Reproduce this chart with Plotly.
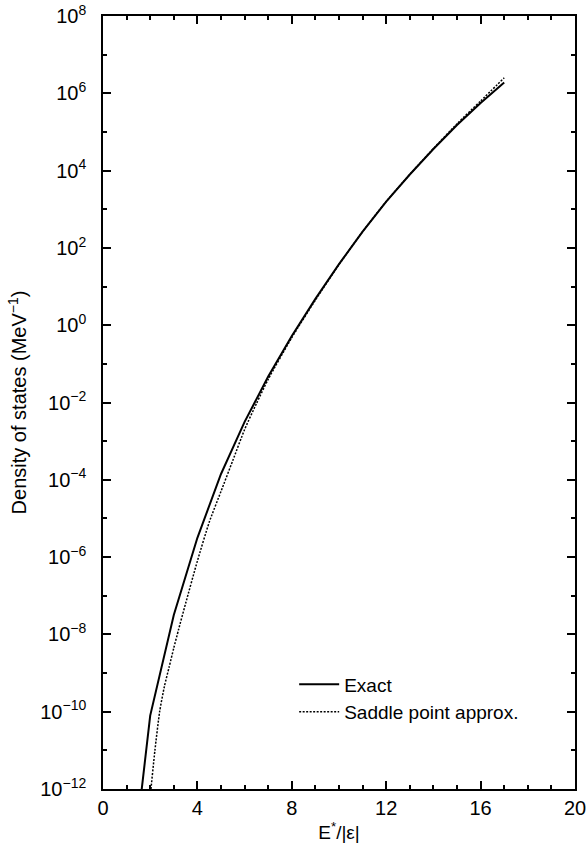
import plotly.graph_objects as go

# ---- data ----
exact_x = [1, 2, 3, 4, 5, 6, 7, 8, 9, 10, 11, 12, 13, 14, 15, 16, 17]
exact_log = [-15.4, -10.1, -7.5, -5.5, -3.85, -2.5, -1.33, -0.28, 0.68, 1.58,
             2.42, 3.2, 3.9, 4.56, 5.18, 5.75, 6.28]

saddle_x = [1.9, 2.0, 2.2, 2.4, 2.6, 2.8, 3.0, 3.2, 3.5, 4.0, 4.5, 5.0, 5.5,
            6.0, 6.5, 7, 8, 9, 10, 11, 12, 13, 14, 15, 16, 17]
saddle_log = [-12.9, -12.2, -11.0, -10.0, -9.35, -8.85, -8.35, -7.88, -7.2,
              -6.1, -5.1, -4.3, -3.5, -2.7, -2.03, -1.4, -0.32, 0.65, 1.57,
              2.42, 3.2, 3.9, 4.57, 5.21, 5.8, 6.4]

x_tickvals = [0, 4, 8, 12, 16, 20]
y_exponents = [-12, -10, -8, -6, -4, -2, 0, 2, 4, 6, 8]
y_minor_exponents = [-11, -9, -7, -5, -3, -1, 1, 3, 5, 7]

exact_y = [10 ** v for v in exact_log]
saddle_y = [10 ** v for v in saddle_log]
y_tickvals = [10.0 ** e for e in y_exponents]
y_ticktext = ["10<sup>%s</sup>" % (str(e).replace("-", "\u2212")) for e in y_exponents]
y_minor = [10.0 ** e for e in y_minor_exponents]

FONT = "Liberation Sans, Arial, Helvetica, sans-serif"

fig = go.Figure()
fig.add_trace(go.Scatter(x=exact_x, y=exact_y, mode="lines", name="Exact",
                         line=dict(color="black", width=2)))
fig.add_trace(go.Scatter(x=saddle_x, y=saddle_y, mode="lines",
                         name="Saddle point approx.",
                         line=dict(color="black", width=1.5, dash="2px,1.5px",
                                   shape="spline", smoothing=0.6)))

axis_common = dict(showline=True, linecolor="black", linewidth=1.5,
                   mirror="allticks", ticks="inside", ticklen=8, tickwidth=1.5,
                   tickcolor="black", showgrid=False, zeroline=False,
                   automargin=False, ticklabeloverflow="allow",
                   tickfont=dict(family=FONT, size=20, color="black"))

fig.update_xaxes(range=[0, 20], tickmode="array", tickvals=x_tickvals,
                 minor=dict(dtick=1, ticks="inside", ticklen=4, tickwidth=1.5,
                            tickcolor="black", showgrid=False),
                 ticklabelstandoff=0,
                 title=dict(text="E<sup>*</sup>/|\u03b5|",
                            font=dict(family=FONT, size=19, color="black"),
                            standoff=8),
                 **axis_common)
fig.update_yaxes(type="log", range=[-12, 8], tickmode="array",
                 tickvals=y_tickvals, ticktext=y_ticktext,
                 minor=dict(tickmode="array", tickvals=y_minor, ticks="inside",
                            ticklen=4, tickwidth=1.5, tickcolor="black",
                            showgrid=False),
                 ticklabelstandoff=11,
                 title=dict(text="Density of states (MeV<sup>\u22121</sup>)",
                            font=dict(family=FONT, size=20, color="black"),
                            standoff=8),
                 **axis_common)

fig.update_layout(
    width=587, height=846,
    margin=dict(l=103, r=12, t=16, b=57),
    paper_bgcolor="white", plot_bgcolor="white",
    showlegend=True,
    legend=dict(x=0.405, y=0.16, xanchor="left", yanchor="top",
                bgcolor="rgba(0,0,0,0)", borderwidth=0,
                font=dict(family=FONT, size=19, color="black"),
                itemwidth=40, tracegroupgap=0),
    font=dict(family=FONT, color="black"),
)

# remove the default 8px page margin so the figure sits at the window's corner
fig.write_html("out.html", config={"displayModeBar": False},
               post_script="document.body.style.margin='0';document.body.style.overflow='hidden';")
